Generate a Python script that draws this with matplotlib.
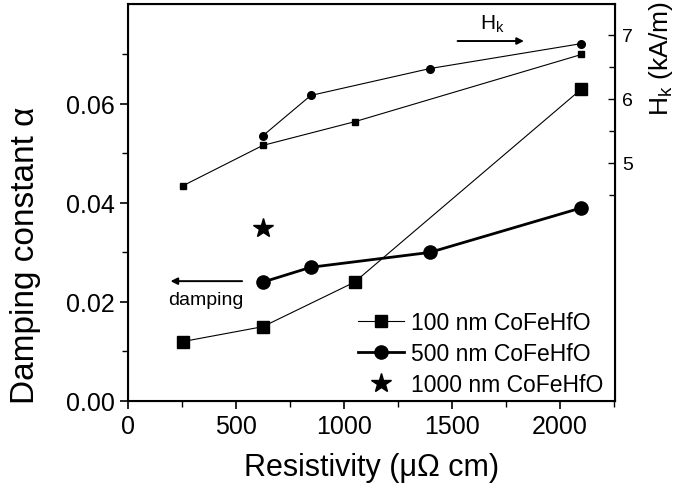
import matplotlib.pyplot as plt
from matplotlib.ticker import MultipleLocator, FixedLocator

plt.rcParams['font.family'] = ['Liberation Sans', 'DejaVu Sans']

# damping constant (left axis)
rho_100 = [255, 625, 1050, 2100]
alpha_100 = [0.012, 0.015, 0.024, 0.063]
rho_500 = [625, 847, 1398, 2100]
alpha_500 = [0.024, 0.027, 0.030, 0.039]
rho_1000 = [625]
alpha_1000 = [0.035]

# anisotropy field Hk (right axis, kA/m)
hk_100 = [4.64, 5.27, 5.64, 6.69]
hk_500 = [5.42, 6.05, 6.47, 6.86]

fig = plt.figure(figsize=(6.87, 4.89), dpi=100)
ax = fig.add_axes([0.186, 0.178, 0.709, 0.812])

ax.plot(rho_100, alpha_100, color='black', lw=0.8, marker='s', ms=8.5,
        label='100 nm CoFeHfO')
ax.plot(rho_500, alpha_500, color='black', lw=2.0, marker='o', ms=9.5,
        label='500 nm CoFeHfO')
ax.plot(rho_1000, alpha_1000, color='black', ls='none', marker='*', ms=15,
        label='1000 nm CoFeHfO')

ax.set_xlim(0, 2255)
ax.set_ylim(0, 0.0802)
ax.xaxis.set_major_locator(MultipleLocator(500))
ax.xaxis.set_minor_locator(MultipleLocator(250))
ax.yaxis.set_major_locator(FixedLocator([0.0, 0.02, 0.04, 0.06]))
ax.yaxis.set_minor_locator(FixedLocator([0.01, 0.03, 0.05, 0.07]))
ax.yaxis.set_major_formatter(lambda v, p: f'{v:.2f}')
ax.tick_params(axis='both', which='major', labelsize=18, length=6, width=1.2, direction='out')
ax.tick_params(axis='both', which='minor', length=4, width=1.0, direction='out')
ax.set_xlabel('Resistivity (\u03bc\u03a9 cm)', fontsize=22, labelpad=10)
ax.set_ylabel('Damping constant \u03b1', fontsize=24)
ax.yaxis.set_label_coords(-0.178, 0.37)
for s in ax.spines.values():
    s.set_linewidth(1.5)

ax2 = ax.twinx()
ax2.plot(rho_100, hk_100, color='black', lw=0.8, marker='s', ms=5)
ax2.plot(rho_500, hk_500, color='black', lw=0.8, marker='o', ms=5.5)
ax2.set_ylim(1.28, 7.48)
ax2.yaxis.set_major_locator(FixedLocator([5, 6, 7]))
ax2.yaxis.set_minor_locator(FixedLocator([4.5, 5.5, 6.5]))
ax2.tick_params(axis='y', which='major', labelsize=14, length=5, width=1.0, direction='in', pad=5)
ax2.tick_params(axis='y', which='minor', length=4, width=1.0, direction='in')
ax2.set_ylabel('H$_\\mathregular{k}$ (kA/m)', fontsize=19)
ax2.yaxis.set_label_coords(1.066, 0.865)

ax.legend(loc='lower right', frameon=False, fontsize=16.5, handlelength=2.0,
          handletextpad=0.3, labelspacing=0.36, borderaxespad=0.1, borderpad=0.1,
          bbox_to_anchor=(0.985, 0.0))

# direction arrows
ax.annotate('', xy=(1847, 0.0727), xytext=(1514, 0.0727),
            arrowprops=dict(arrowstyle='-|>', color='black', lw=1.4, mutation_scale=10))
ax.text(1630, 0.0752, 'H$_\\mathregular{k}$', fontsize=15, va='baseline')
ax.annotate('', xy=(185, 0.0242), xytext=(542, 0.0242),
            arrowprops=dict(arrowstyle='-|>', color='black', lw=1.4, mutation_scale=10))
ax.text(360, 0.0222, 'damping', fontsize=14, ha='center', va='top')

fig.savefig('out.png', dpi=100)
